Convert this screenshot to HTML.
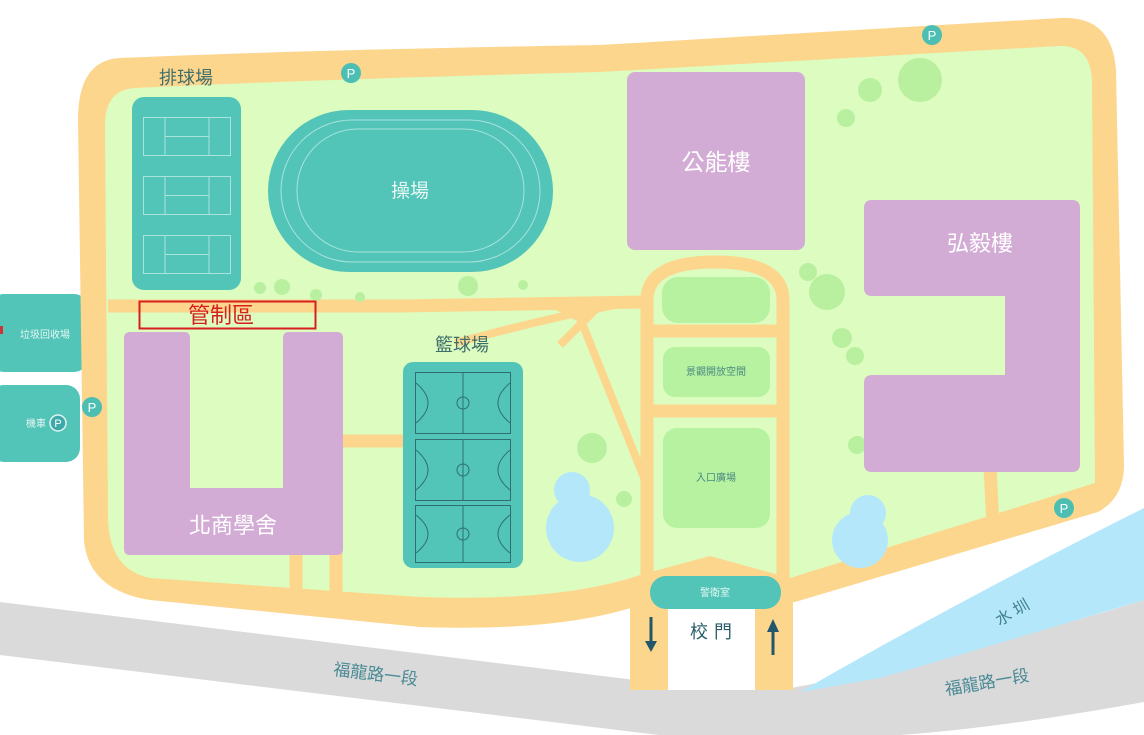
<!DOCTYPE html>
<html><head><meta charset="utf-8"><style>
html,body{margin:0;padding:0;background:#fff;}
svg{display:block;}
text{font-family:"Liberation Sans","Noto Sans CJK TC",sans-serif;}
</style></head><body>
<svg width="1144" height="735" viewBox="0 0 1144 735" xmlns="http://www.w3.org/2000/svg">
<!-- gray road -->
<path d="M0,602 L700,688 L780,690 Q950,660 1144,600 L1144,702 Q1000,728 900,735 L700,740 L0,655 Z" fill="#dadada"/>
<!-- canal -->
<path d="M800,692 Q960,600 1144,508 L1144,600 Q960,655 880,678 Z" fill="#b5e7fb"/>
<text x="1015" y="617" font-size="16" fill="#3f7f8c" transform="rotate(-30 1015 617)" text-anchor="middle">水 圳</text>
<text x="375" y="680" font-size="17" fill="#4a8a96" transform="rotate(7 375 680)" text-anchor="middle">福龍路一段</text>
<text x="988" y="688" font-size="17" fill="#4a8a96" transform="rotate(-10 988 688)" text-anchor="middle">福龍路一段</text>

<!-- left boxes -->
<rect x="-10" y="294" width="98" height="78" rx="14" fill="#52c4b8"/>
<rect x="-10" y="385" width="90" height="77" rx="14" fill="#52c4b8"/>
<rect x="0" y="326" width="3" height="8" fill="#c33"/>
<text x="45" y="338" font-size="10" fill="#e5f7f4" text-anchor="middle">垃圾回收場</text>
<text x="36" y="427" font-size="10" fill="#e5f7f4" text-anchor="middle">機車</text>
<circle cx="58" cy="423" r="8" fill="#3fa8a8" stroke="#e0f5f2" stroke-width="1.5"/>
<text x="58" y="427" font-size="11" fill="#fff" text-anchor="middle">P</text>

<!-- campus outer -->
<path d="M120,58 Q300,50 600,45 L1060,18 Q1112,15 1116,70 L1124,465 Q1124,498 1098,512 L795,602 L640,605 Q560,632 420,627 L150,600 Q88,590 84,540 L78,120 Q78,60 120,58 Z" fill="#fdd68e"/>
<!-- gate pillars -->
<rect x="630" y="590" width="38" height="100" fill="#fdd68e"/>
<rect x="755" y="590" width="38" height="100" fill="#fdd68e"/>
<!-- campus inner -->
<path d="M135,88 Q300,80 600,72 L1060,46 Q1090,45 1092,80 L1095,483 L790,578 L710,556 L640,575 Q560,602 420,597 L150,578 Q110,570 108,520 L105,125 Q105,90 135,88 Z" fill="#dcfcc0"/>

<!-- inner roads -->
<g stroke="#fdd68e" stroke-width="13" fill="none">
<path d="M108,306 L400,306 L645,302"/>
<path d="M647,590 L647,300 Q647,262 715,262 Q783,262 783,300 L783,585"/>
<path d="M647,331 L783,331"/>
<path d="M647,411 L783,411"/>
<path d="M340,441 L405,441"/>
<path d="M296,550 L296,590"/>
<path d="M336,550 L336,592"/>
<path d="M990,468 L993,525"/>
</g>
<g stroke="#fdd68e" stroke-width="8" fill="none">
<path d="M455,343 Q540,320 615,305"/>
<path d="M545,300 L580,318 L645,480"/>
<path d="M560,345 L600,305"/>
</g>

<!-- trees -->
<g fill="#b9f0a0">
<circle cx="920" cy="80" r="22"/><circle cx="870" cy="90" r="12"/><circle cx="846" cy="118" r="9"/>
<circle cx="808" cy="272" r="9"/><circle cx="827" cy="292" r="18"/><circle cx="842" cy="338" r="10"/>
<circle cx="855" cy="356" r="9"/><circle cx="857" cy="445" r="9"/>
<circle cx="260" cy="288" r="6"/><circle cx="282" cy="287" r="8"/><circle cx="316" cy="295" r="6"/>
<circle cx="360" cy="297" r="5"/><circle cx="468" cy="286" r="10"/><circle cx="523" cy="285" r="5"/>
<circle cx="592" cy="448" r="15"/><circle cx="624" cy="499" r="8"/>
</g>
<!-- ponds -->
<g fill="#b5e7fb">
<circle cx="572" cy="490" r="18"/><circle cx="580" cy="528" r="34"/>
<circle cx="868" cy="513" r="18"/><circle cx="860" cy="540" r="28"/>
</g>

<!-- volleyball -->
<rect x="132" y="97" width="109" height="193" rx="12" fill="#52c4b8"/>
<g stroke="#a8e3dc" stroke-width="1" fill="none">
<rect x="143.5" y="117.5" width="87" height="38"/><path d="M165,117 V156 M209,117 V156 M165,136.5 H209"/>
<rect x="143.5" y="176.5" width="87" height="38"/><path d="M165,176 V215 M209,176 V215 M165,195.5 H209"/>
<rect x="143.5" y="235.5" width="87" height="38"/><path d="M165,235 V274 M209,235 V274 M165,254.5 H209"/>
</g>
<text x="186" y="84" font-size="18" fill="#3f6f6a" text-anchor="middle">排球場</text>

<!-- track -->
<rect x="268" y="110" width="285" height="162" rx="81" fill="#52c4b8"/>
<rect x="281" y="120" width="259" height="142" rx="71" fill="none" stroke="#a8e3dc" stroke-width="1"/>
<rect x="297" y="129" width="227" height="123" rx="61" fill="none" stroke="#a8e3dc" stroke-width="1"/>
<text x="410" y="197" font-size="19" fill="#eaf8f5" text-anchor="middle">操場</text>

<!-- buildings -->
<rect x="627" y="72" width="178" height="178" rx="8" fill="#d3acd6"/>
<text x="716" y="170" font-size="23" fill="#fff" text-anchor="middle">公能樓</text>
<path d="M872,200 H1072 Q1080,200 1080,208 V464 Q1080,472 1072,472 H872 Q864,472 864,464 V383 Q864,375 872,375 H1005 V296 H872 Q864,296 864,288 V208 Q864,200 872,200 Z" fill="#d3acd6"/>
<text x="980" y="251" font-size="22" fill="#fff" text-anchor="middle">弘毅樓</text>
<path d="M130,332 H184 Q190,332 190,338 V488 H283 V338 Q283,332 289,332 H337 Q343,332 343,338 V549 Q343,555 337,555 H130 Q124,555 124,549 V338 Q124,332 130,332 Z" fill="#d3acd6"/>
<text x="233" y="533" font-size="22" fill="#fff" text-anchor="middle">北商學舍</text>

<!-- basketball -->
<rect x="403" y="362" width="120" height="206" rx="10" fill="#52c4b8"/>
<g stroke="#2f6f74" stroke-width="1" fill="none">
<rect x="415.5" y="372.5" width="95" height="61"/><rect x="415.5" y="439.5" width="95" height="61"/><rect x="415.5" y="505.5" width="95" height="57"/>
<path d="M463,373 V434 M463,440 V501 M463,506 V563"/>
<circle cx="463" cy="403" r="6"/><circle cx="463" cy="470" r="6"/><circle cx="463" cy="534" r="6"/>
<path d="M416,383 Q440,403 416,423 M510,383 Q486,403 510,423 M416,450 Q440,470 416,490 M510,450 Q486,470 510,490 M416,515 Q440,534 416,553 M510,515 Q486,534 510,553"/>
</g>
<text x="462" y="351" font-size="18" fill="#3f6f6a" text-anchor="middle">籃球場</text>

<!-- central greens -->
<rect x="662" y="277" width="108" height="46" rx="16" fill="#b7f2a0"/>
<rect x="663" y="347" width="107" height="50" rx="12" fill="#b7f2a0"/>
<text x="716" y="375" font-size="10" fill="#4a8a82" text-anchor="middle">景觀開放空間</text>
<rect x="663" y="428" width="107" height="100" rx="14" fill="#b7f2a0"/>
<text x="716" y="481" font-size="10" fill="#4a8a82" text-anchor="middle">入口廣場</text>

<!-- guard + gate -->
<rect x="668" y="600" width="87" height="90" fill="#fff"/>
<rect x="650" y="576" width="131" height="33" rx="16" fill="#52c4b8"/>
<text x="715" y="596" font-size="10" fill="#e5f7f4" text-anchor="middle">警衛室</text>
<text x="714" y="638" font-size="18" fill="#2b5d6b" text-anchor="middle" letter-spacing="6">校門</text>
<path d="M651,617 V643" stroke="#22566a" stroke-width="3"/><path d="M645,641 L651,652 L657,641 Z" fill="#22566a"/>
<path d="M773,630 V655" stroke="#22566a" stroke-width="3"/><path d="M767,632 L773,619 L779,632 Z" fill="#22566a"/>

<!-- P markers -->
<g font-size="13" fill="#fff" text-anchor="middle">
<circle cx="351" cy="73" r="10" fill="#4cbfb2"/><text x="351" y="78">P</text>
<circle cx="932" cy="35" r="10" fill="#4cbfb2"/><text x="932" y="40">P</text>
<circle cx="92" cy="407" r="10" fill="#4cbfb2"/><text x="92" y="412">P</text>
<circle cx="1064" cy="508" r="10" fill="#4cbfb2"/><text x="1064" y="513">P</text>
</g>

<!-- control zone -->
<rect x="139.5" y="301.5" width="176" height="27" fill="none" stroke="#d61f1f" stroke-width="2"/>
<text x="221" y="323" font-size="22" fill="#d61f1f" text-anchor="middle">管制區</text>
</svg>
</body></html>
